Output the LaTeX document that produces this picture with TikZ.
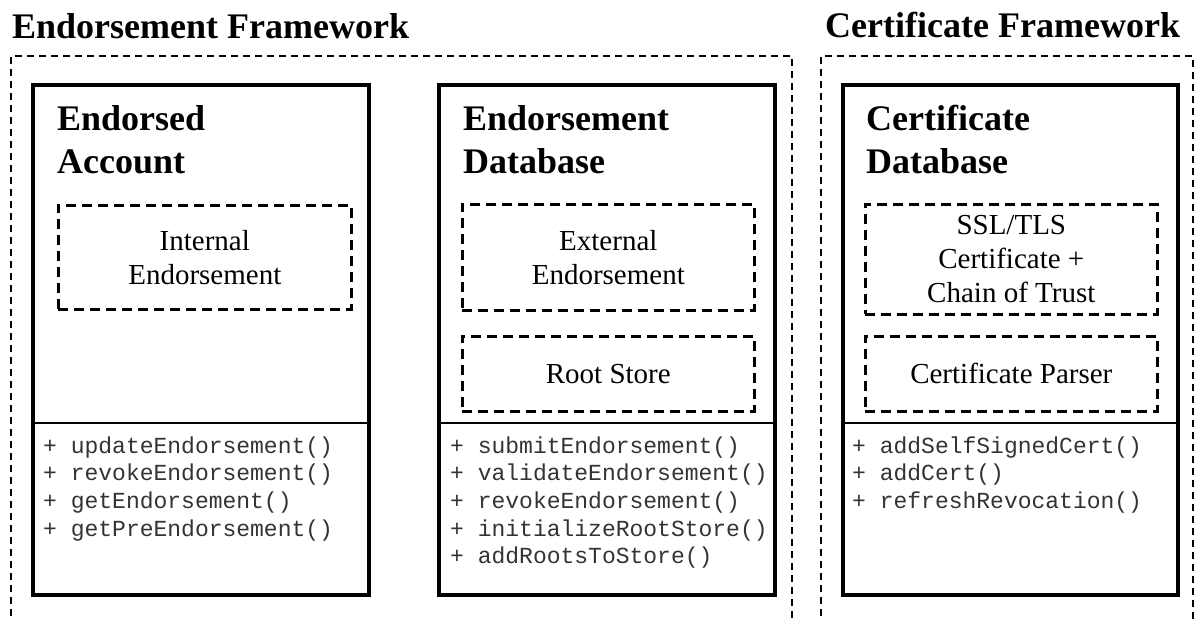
\documentclass[tikz,border=0pt]{standalone}
\usepackage{fontspec}
\setmainfont{Liberation Serif}
\newfontfamily\codefont{Liberation Mono}
\begin{document}
\begin{tikzpicture}[x=1pt,y=-1pt,
  frame/.style={line width=1.4pt, dash pattern=on 7pt off 5pt},
  classbox/.style={draw, line width=3.6pt, anchor=north west, inner sep=0pt},
  part/.style={draw, line width=2.6pt, dash pattern=on 10pt off 6pt,
    anchor=north west, align=center, inner sep=0pt,
    font=\fontsize{29}{34}\selectfont},
  title/.style={anchor=base west, inner sep=0pt,
    font=\bfseries\fontsize{36}{43}\selectfont},
  heading/.style={anchor=base west, align=left, inner sep=0pt,
    font=\bfseries\fontsize{36}{43}\selectfont},
  methods/.style={anchor=base west, align=left, inner sep=0pt,
    text=black!80, font=\codefont\fontsize{23}{27.7}\selectfont},
  divider/.style={line width=2.4pt}]
\useasboundingbox (0,0) rectangle (1200,619);
\clip (0,0) rectangle (1200,619);

% framework titles
\node[title] (tEF) at (12,38) {Endorsement Framework};
\node[title] (tCF) at (825,37) {Certificate Framework};

% open dashed framework borders (continue past the lower edge)
\draw[frame] (11,640) |- (792,56) -- (792,640);
\draw[frame] (821,640) |- (1193,56) -- (1193,640);

% class boxes
\node[classbox, minimum width=336, minimum height=510] (acc) at (31,83) {};
\node[classbox, minimum width=336, minimum height=510] (edb) at (437,83) {};
\node[classbox, minimum width=335, minimum height=510] (cdb) at (841,83) {};

% attribute / method dividers
\draw[divider] (acc.west |- 0,423) -- (acc.east |- 0,423);
\draw[divider] (edb.west |- 0,423) -- (edb.east |- 0,423);
\draw[divider] (cdb.west |- 0,423) -- (cdb.east |- 0,423);

% class names (anchored on the baseline of the second line)
\node[heading] (hacc) at (57,173) {Endorsed\\Account};
\node[heading] (hedb) at (463,173) {Endorsement\\Database};
\node[heading] (hcdb) at (866,173) {Certificate\\Database};

% components
\node[part, minimum width=293, minimum height=104] (intE) at (57,204) {Internal\\Endorsement};
\node[part, minimum width=292, minimum height=106] (extE) at (461,203) {External\\Endorsement};
\node[part, minimum width=292, minimum height=75] (root) at (461,335) {Root Store};
\node[part, minimum width=292, minimum height=110] (ssl) at (864,203) {SSL/TLS\\Certificate +\\Chain of Trust};
\node[part, minimum width=292, minimum height=75] (parser) at (864,335) {Certificate Parser};

% methods (anchored on the baseline of the last line)
\node[methods] (macc) at (43,536.1) {+ updateEndorsement()\\+ revokeEndorsement()\\+ getEndorsement()\\+ getPreEndorsement()};
\node[methods] (medb) at (450,563.8) {+ submitEndorsement()\\+ validateEndorsement()\\+ revokeEndorsement()\\+ initializeRootStore()\\+ addRootsToStore()};
\node[methods] (mcdb) at (852,508.4) {+ addSelfSignedCert()\\+ addCert()\\+ refreshRevocation()};
\end{tikzpicture}
\end{document}
